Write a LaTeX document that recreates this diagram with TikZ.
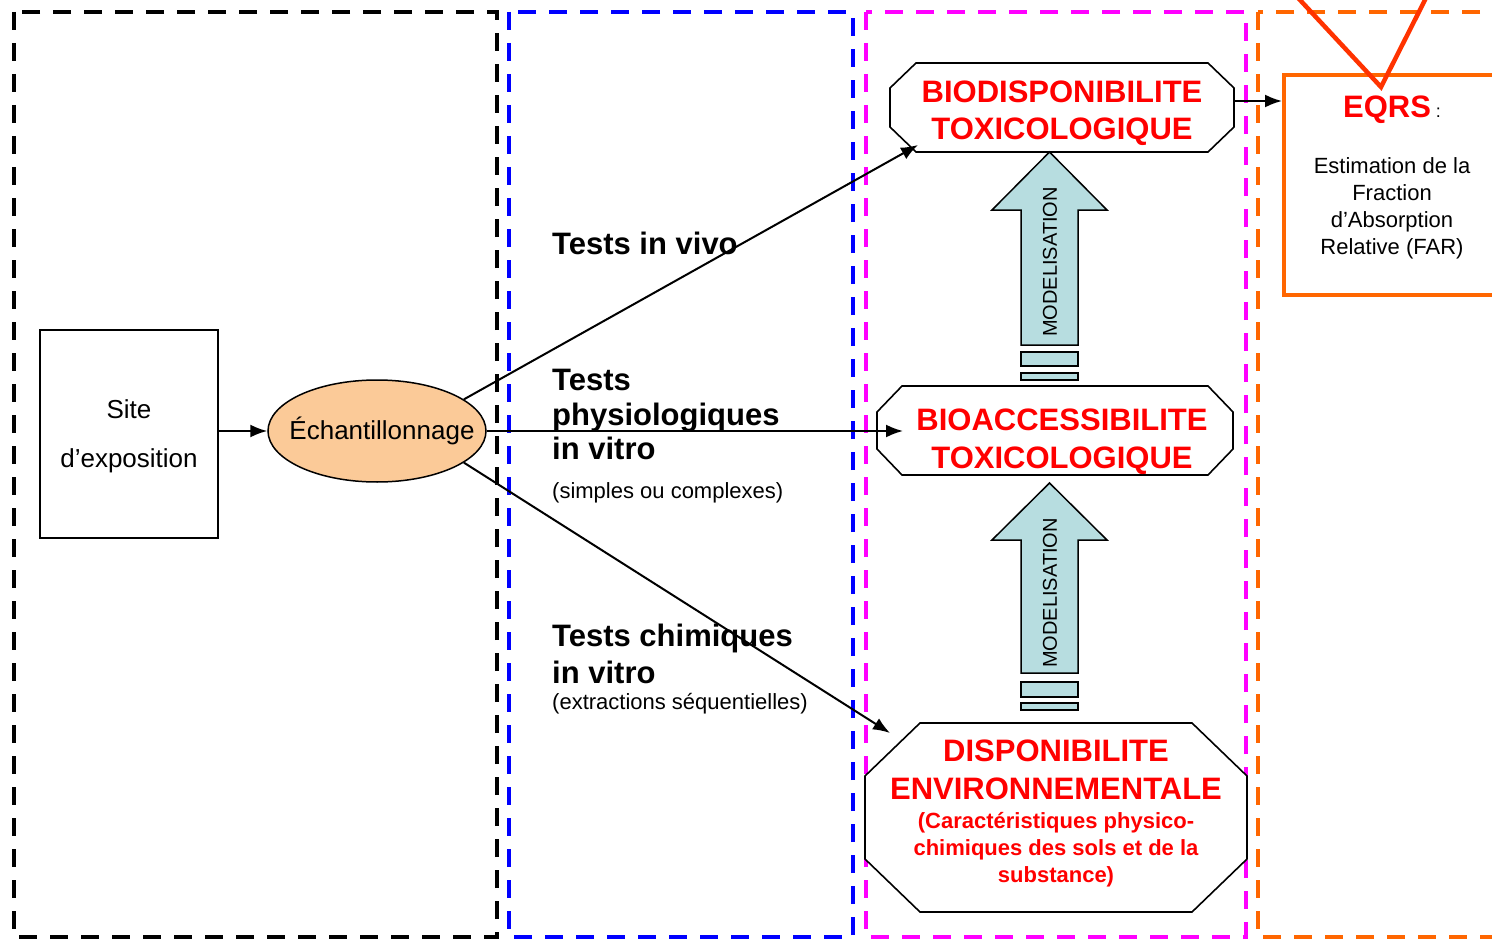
\documentclass[tikz,border=0pt]{standalone}
\usepackage{fontspec}
\setmainfont{Liberation Sans}
\usetikzlibrary{shapes.geometric,arrows.meta}

\definecolor{peach}{RGB}{251,202,152}
\definecolor{arrowblue}{RGB}{183,221,224}
\definecolor{frameorange}{RGB}{255,102,0}
\definecolor{vred}{RGB}{255,51,0}
\definecolor{titlered}{RGB}{255,0,0}
\definecolor{zoneblue}{RGB}{0,0,255}
\definecolor{zonemagenta}{RGB}{255,0,255}

% octagonal outline around a (shapeless) node: #1 node, #2 horizontal cut, #3 vertical cut
\newcommand\octagonframe[3]{%
  \draw[octline] ([xshift=#2]#1.north west) -- ([xshift=-#2]#1.north east)
    -- ([yshift=-#3]#1.north east) -- ([yshift=#3]#1.south east)
    -- ([xshift=-#2]#1.south east) -- ([xshift=#2]#1.south west)
    -- ([yshift=#3]#1.south west) -- ([yshift=-#3]#1.north west) -- cycle;}

\begin{document}
\begin{tikzpicture}[x=1pt,y=-1pt,
  zone/.style={line width=4pt, dash pattern=on 18pt off 13pt},
  conn/.style={line width=2pt, -{Latex[length=17pt,width=13pt]}},
  octbox/.style={shape=rectangle, inner sep=0pt, outer sep=0pt},
  octline/.style={draw=black, line width=1.6pt, fill=white},
  bigred/.style={text=titlered, font=\fontsize{31}{37}\selectfont\bfseries, align=center, inner sep=0pt},
  smallred/.style={text=titlered, font=\fontsize{22}{27}\selectfont\bfseries, align=center, inner sep=0pt},
  testhead/.style={font=\fontsize{31}{34.5}\selectfont\bfseries, align=left, inner sep=0pt},
  testnote/.style={font=\fontsize{22}{26}\selectfont, inner sep=0pt, anchor=base west},
  modarrow/.style={draw=black, line width=1.5pt, fill=arrowblue},
  modtext/.style={font=\fontsize{20}{24}\selectfont, rotate=90, inner sep=0pt},
]
\useasboundingbox (0,0) rectangle (1492,939);

% dashed zones
\draw[zone] (14,12) rectangle (497,937);
\draw[zone, draw=zoneblue, line width=3.5pt] (509,12) rectangle (853,937);
\draw[zone, draw=zonemagenta] (866,12) rectangle (1246,937);
\draw[zone, draw=frameorange] (1258,12) rectangle (1560,937);

% sampling site and sampling
\node[draw, line width=1.6pt, minimum width=178pt, minimum height=208pt] (site) at (129,434) {};
\node[align=center, inner sep=0pt, font=\fontsize{26}{49}\selectfont] (siteText) at (129,436) {Site\\d’exposition};
\node[ellipse, draw, line width=1.5pt, fill=peach, minimum width=218pt, minimum height=102pt,
      inner sep=0pt] (ech) at (377,431) {};
\node[font=\fontsize{26}{30}\selectfont, inner sep=0pt] (echText) at (382,431) {Échantillonnage};

% availability levels
\node[octbox, minimum width=344pt, minimum height=89pt] (bio) at (1062,107.5) {};
\octagonframe{bio}{26pt}{25pt}
\node[bigred] (bioText) at (1062,113) {BIODISPONIBILITE\\TOXICOLOGIQUE};

\node[octbox, minimum width=356pt, minimum height=89pt] (bacc) at (1055,430.5) {};
\octagonframe{bacc}{25pt}{26pt}
\node[bigred, font=\fontsize{31}{38}\selectfont\bfseries] (baccText) at (1062,442) {BIOACCESSIBILITE\\TOXICOLOGIQUE};

\node[octbox, minimum width=382pt, minimum height=189pt] (dispo) at (1056,817.5) {};
\octagonframe{dispo}{55pt}{53pt}
\node[bigred, font=\fontsize{31}{38}\selectfont\bfseries] (dispoTitle) at (1056,770) {DISPONIBILITE\\ENVIRONNEMENTALE};
\node[smallred] (dispoNote) at (1056,850) {(Caractéristiques physico-\\chimiques des sols et de la\\substance)};

% modelling arrows
\draw[modarrow] (1049.5,152) -- (1107,210) -- (1078,210) -- (1078,345) -- (1021,345)
  -- (1021,210) -- (992,210) -- cycle;
\draw[modarrow] (1021,352) rectangle (1078,366);
\draw[modarrow] (1021,373) rectangle (1078,380);
\node[modtext] (mod1) at (1050,262) {MODELISATION};

\draw[modarrow] (1049.5,483) -- (1107,540) -- (1078,540) -- (1078,673) -- (1021,673)
  -- (1021,540) -- (992,540) -- cycle;
\draw[modarrow] (1021,682) rectangle (1078,697);
\draw[modarrow] (1021,703) rectangle (1078,710);
\node[modtext] (mod2) at (1050,593) {MODELISATION};

% risk assessment box
\node[draw=frameorange, line width=4pt, minimum width=256pt, minimum height=220pt, inner sep=0pt] (eqrs) at (1412,185) {};
\coordinate (vtip) at (1381,87);
\draw[line width=4.5pt, draw=vred] (1290.7,-10) -- (vtip) -- (1430,-10);
\node (eqrsTitle) at (1392,110) {{\fontsize{31}{37}\selectfont\bfseries\color{titlered}EQRS}{\fontsize{18}{20}\selectfont~:}};
\node[align=center, font=\fontsize{22}{27}\selectfont] (eqrsText) at (1392,208)
  {Estimation de la\\Fraction\\d’Absorption\\Relative (FAR)};

% test labels
\node[testhead, anchor=base west] (vivo) at (552,254) {Tests in vivo};
\node[testhead, anchor=north west] (physio) at (552,369) {Tests\\physiologiques\\in vitro};
\node[testnote] (physioNote) at (552,498) {(simples ou complexes)};
\node[testhead, anchor=north west, font=\fontsize{31}{37}\selectfont\bfseries] (chem) at (552,623.5) {Tests chimiques\\in vitro};
\node[testnote] (chemNote) at (552,709) {(extractions séquentielles)};

% connectors
\coordinate (vivoTip) at (918,145);
\coordinate (physTip) at (903,431);
\coordinate (chemTip) at (890,733);
\draw[conn] (site.east |- ech.west) -- (ech.west);
\draw[conn] (ech.20) -- (vivoTip);
\draw[conn] (ech.east) -- (physTip);
\draw[conn] (ech.-20) -- (chemTip);
\draw[conn] ([yshift=6.5pt]bio.east) -- ([yshift=6.5pt]bio.east -| eqrs.west);
\end{tikzpicture}
\end{document}
